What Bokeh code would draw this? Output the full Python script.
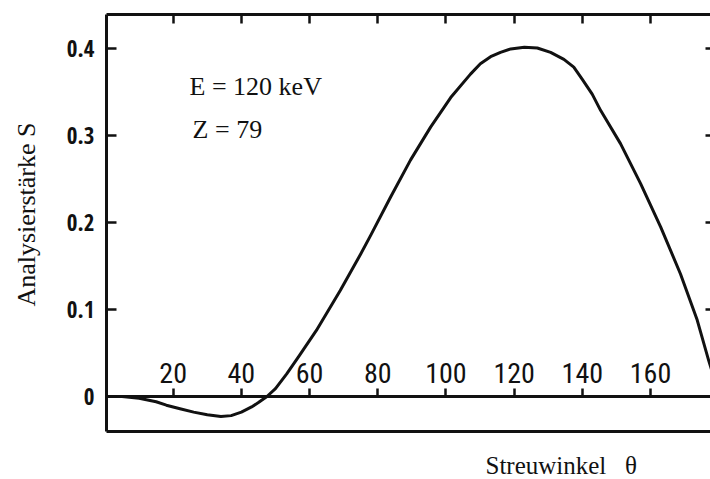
import math

from bokeh.embed import file_html
from bokeh.models import FixedTicker, Label, LinearAxis, Range1d
from bokeh.plotting import figure
from bokeh.resources import INLINE

# Analysing power (Sherman function) of gold, Z = 79, at E = 120 keV
theta = [0, 5, 10, 15, 18, 22, 26, 30, 34, 37, 40, 43, 45, 47.5, 50, 53.3,
         57, 62, 69, 75, 78, 83.7, 89.6, 95.5, 101.4, 107.2, 110.1, 113.1,
         116.0, 119.0, 123.0, 126.8, 130.7, 134.6, 137.5, 140.0, 142.9,
         145.4, 151.2, 157.1, 163, 168.8, 173.7, 177.1, 180]
S = [0, 0, -0.002, -0.006, -0.010, -0.014, -0.018, -0.021, -0.023, -0.022,
     -0.018, -0.012, -0.007, 0, 0.009, 0.026, 0.047, 0.076, 0.122, 0.164,
     0.186, 0.229, 0.272, 0.310, 0.344, 0.371, 0.383, 0.391,
     0.396, 0.400, 0.402, 0.401, 0.396, 0.388, 0.379, 0.365, 0.348,
     0.329, 0.291, 0.245, 0.195, 0.141, 0.088, 0.041, 0.005]

x_ticks = [20, 40, 60, 80, 100, 120, 140, 160]
y_ticks = [0, 0.1, 0.2, 0.3, 0.4]
y_tick_labels = ["0", "0.1", "0.2", "0.3", "0.4"]
right_ticks = [0.1, 0.2, 0.3, 0.4]

# extent of the drawn box (theta from ~0 to beyond 180, S from -0.04 to 0.44)
box_x = (0.4, 177.6)
box_y = (-0.0403, 0.4396)

Y_DIGITS = "Open Sans Condensed, DejaVu Sans Condensed, sans-serif"
X_DIGITS = "Roboto Condensed, DejaVu Sans Condensed, sans-serif"
SERIF = "Liberation Serif"
INK = "#111111"

p = figure(width=710, height=479, output_backend="svg", toolbar_location=None,
           x_range=Range1d(-30.65, 177.6), y_range=Range1d(-0.0955, 0.4557),
           x_axis_location=None, y_axis_location=None,
           min_border_left=0, min_border_right=0,
           min_border_top=0, min_border_bottom=0)
p.outline_line_color = None
p.background_fill_color = "white"
p.border_fill_color = "white"
for g in p.grid:
    g.visible = False


def frame_axis(axis, ticks, tick_in, tick_out=0, line=True, labels=False):
    axis.ticker = FixedTicker(ticks=ticks)
    axis.axis_line_width = 3
    axis.axis_line_color = INK if line else None
    axis.major_tick_in = tick_in
    axis.major_tick_out = tick_out
    axis.major_tick_line_width = 2.5
    axis.major_tick_line_color = INK
    axis.minor_tick_line_color = None
    if not labels:
        # tick marks without any tick text
        axis.major_label_overrides = {t: "" for t in ticks}
        axis.major_label_standoff = 0
    return axis


# left edge of the box with the S scale
left = frame_axis(LinearAxis(fixed_location=box_x[0], bounds=box_y), y_ticks, 10,
                  labels=True)
left.major_label_overrides = dict(zip(y_ticks, y_tick_labels))
left.major_label_text_font = Y_DIGITS
left.major_label_text_font_size = "23px"
left.major_label_text_font_style = "bold"
left.major_label_text_color = INK
left.major_label_standoff = 12
p.add_layout(left, "left")

# top edge with inward ticks only
top = frame_axis(LinearAxis(fixed_location=box_y[1], bounds=box_x), x_ticks, 9)
p.add_layout(top, "above")

# right edge: ticks only
right = frame_axis(LinearAxis(fixed_location=box_x[1], bounds=box_y),
                   right_ticks, 5, line=False)
p.add_layout(right, "right")

# bottom edge: plain line
bottom = frame_axis(LinearAxis(fixed_location=box_y[0], bounds=box_x), [], 0)
p.add_layout(bottom, "below")

# theta scale drawn along S = 0
zero = frame_axis(LinearAxis(fixed_location=0, bounds=box_x), x_ticks, 0,
                  tick_out=8, labels=True)
zero.major_label_text_font = X_DIGITS
zero.major_label_text_font_size = "28px"
zero.major_label_text_color = INK
zero.major_label_standoff = 6
p.add_layout(zero, "above")

p.line(theta, S, line_width=3, line_color=INK, line_join="round")

# parameters and axis titles
p.add_layout(Label(x=24.8, y=0.3573, text="E = 120 keV", text_font=SERIF,
                   text_baseline="middle", text_font_size="26px", text_color=INK))
p.add_layout(Label(x=25.7, y=0.3067, text="Z = 79", text_font=SERIF,
                   text_baseline="middle", text_font_size="26px", text_color=INK))
p.add_layout(Label(x=111.6, y=-0.0789, text="Streuwinkel\u00a0\u00a0\u00a0θ",
                   text_font=SERIF, text_baseline="middle", text_font_size="25px",
                   text_color=INK))
p.add_layout(Label(x=-22.97, y=0.2094, text="Analysierstärke S", angle=math.pi / 2,
                   text_align="center", text_baseline="middle", text_font=SERIF,
                   text_font_size="26px", text_color=INK))

open("out.html", "w").write(file_html(p, INLINE))
